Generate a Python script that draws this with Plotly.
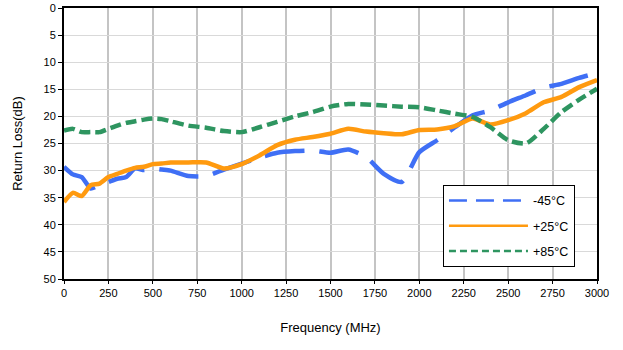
import plotly.graph_objects as go

freq = [0, 50, 100, 150, 200, 250, 300, 350, 400, 450, 500, 550, 600, 700, 800, 900, 1000,
        1100, 1200, 1300, 1400, 1500, 1600, 1700, 1800, 1900, 2000, 2100, 2200, 2300, 2400,
        2500, 2600, 2700, 2800, 2900, 3000]

rl_m45 = [29.3, 30.7, 31.2, 33.3, 32.7, 32.1, 31.5, 31.2, 29.6, 29.9, 29.6, 29.8, 30.0, 31.0, 31.0,
          29.8, 28.7, 27.6, 26.7, 26.4, 26.3, 26.7, 26.1, 27.5, 30.6, 32.1, 26.6, 24.4, 22.0,
          19.8, 18.9, 17.4, 16.1, 14.7, 14.0, 12.9, 12.0]

rl_p25 = [35.8, 34.1, 34.7, 32.7, 32.4, 31.2, 30.6, 30.0, 29.5, 29.3, 28.8, 28.7, 28.5, 28.5, 28.5,
          29.6, 28.8, 27.2, 25.3, 24.3, 23.8, 23.2, 22.3, 22.8, 23.1, 23.3, 22.5, 22.4, 21.8,
          20.4, 21.5, 20.7, 19.4, 17.4, 16.4, 14.6, 13.3]

rl_p85 = [22.6, 22.3, 22.9, 22.9, 22.9, 22.3, 21.7, 21.2, 20.9, 20.6, 20.4, 20.5, 20.9, 21.7, 22.1,
          22.7, 22.9, 22.0, 21.0, 20.0, 19.2, 18.2, 17.7, 17.8, 18.0, 18.2, 18.3, 18.9, 19.5,
          20.1, 22.0, 24.4, 25.0, 22.3, 19.2, 16.9, 14.9]

names = ["-45°C", "+25°C", "+85°C"]
colors = ["#3f6ff5", "#ff9a0f", "#2e9560"]
dashes = ["40px,15px", "solid", "11px,5px"]
legend_dashes = ["18px,9px", "solid", "7px,4px"]
series = [rl_m45, rl_p25, rl_p85]

x_ticks = list(range(0, 3001, 250))
y_ticks = list(range(0, 51, 5))

fig = go.Figure()
for i, (nm, ys) in enumerate(zip(names, series)):
    fig.add_trace(go.Scatter(x=freq, y=ys, mode="lines", name=nm, showlegend=False,
                             line=dict(color=colors[i], width=4.5, dash=dashes[i], shape="spline", smoothing=0.6)))
for i, nm in enumerate(names):
    fig.add_trace(go.Scatter(x=[None], y=[None], mode="lines", name=nm, legendgroup=nm,
                             line=dict(color=colors[i], width=2.5, dash=legend_dashes[i])))

axis_font = dict(family="Liberation Sans, Arial, sans-serif", size=11, color="#000")
fig.update_layout(
    width=623, height=350,
    margin=dict(l=64, r=26, t=8, b=71),
    paper_bgcolor="white", plot_bgcolor="white",
    font=dict(family="Liberation Sans, Arial, sans-serif", size=11, color="#000"),
    xaxis=dict(range=[0, 3000], tickvals=x_ticks, ticktext=[str(v) for v in x_ticks],
               showgrid=True, gridcolor="#c4c4c4", gridwidth=2, zeroline=False,
               showline=True, linecolor="#000", linewidth=2, mirror=True, automargin=False,
               ticks="outside", ticklen=3, tickcolor="#000", tickfont=axis_font,
               title=dict(text="Frequency (MHz)", font=dict(size=13), standoff=25)),
    yaxis=dict(range=[50, 0], tickvals=y_ticks, ticktext=[str(v) for v in y_ticks],
               showgrid=True, gridcolor="#d9d9d9", gridwidth=1, zeroline=False,
               showline=True, linecolor="#000", linewidth=2, mirror=True, automargin=False,
               ticks="outside", ticklen=4, tickcolor="#000", tickfont=axis_font,
               title=dict(text="Return Loss(dB)", font=dict(size=13), standoff=18)),
    legend=dict(x=0.711, y=0.045, xanchor="left", yanchor="bottom",
                bgcolor="white", bordercolor="#000", borderwidth=1,
                font=dict(size=12.5), tracegroupgap=6, itemwidth=79),
)

fig.write_html("out.html")
